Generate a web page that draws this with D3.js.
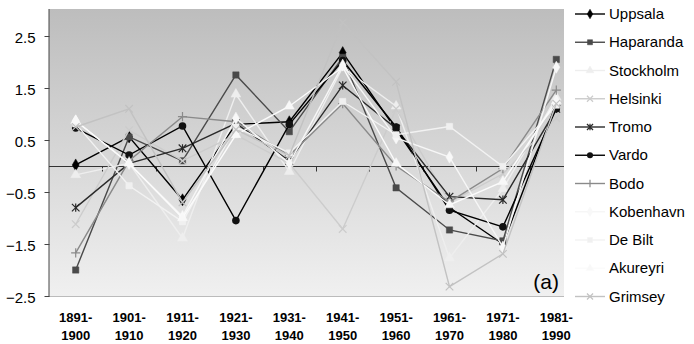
<!DOCTYPE html>
<html><head><meta charset="utf-8">
<script src="https://cdn.jsdelivr.net/npm/d3@7"></script>
<style>body{margin:0;background:#fff}svg{display:block;font-family:Arial,"Liberation Sans",sans-serif}</style>
</head><body><svg id="c" width="694" height="344"></svg>
<script>
const categories = ["1891-1900","1901-1910","1911-1920","1921-1930","1931-1940","1941-1950","1951-1960","1961-1970","1971-1980","1981-1990"];
const yTicks = [-2.5,-1.5,-0.5,0.5,1.5,2.5];
const uppsala   = [0.02, 0.56, -0.65, 0.80, 0.85, 2.18, 0.70, -0.80, -1.50, 1.20];
const haparanda = [-2.00, 0.56, 0.10, 1.75, 0.66, 2.09, -0.42, -1.23, -1.44, 2.05];
const stockholm = [-0.17, 0.05, -1.39, 1.38, -0.11, 1.90, 1.15, -1.77, -0.44, 1.32];
const helsinki  = [-1.12, 0.69, 0.10, 0.60, 0.05, -1.21, 1.10, -0.70, -0.15, 0.92];
const tromo     = [-0.80, 0.05, 0.34, 0.82, 0.10, 1.55, 0.72, -0.59, -0.65, 1.10];
const vardo     = [0.73, 0.21, 0.77, -1.05, 0.80, 2.03, 0.75, -0.85, -1.17, 1.10];
const bodo      = [-1.67, 0.10, 0.95, 0.85, 0.20, 1.20, 0.00, -0.69, -0.05, 1.46];
const kobenhavn = [0.87, 0.05, -0.97, 0.92, 0.05, 1.94, 0.54, 0.17, -1.56, 1.90];
const debilt    = [0.81, -0.38, -1.07, 0.75, 0.25, 1.24, 0.60, 0.76, -0.01, 1.17];
const akureyri  = [0.87, 0.05, -1.00, 0.60, 1.15, 1.90, 0.05, -0.75, -0.30, 1.25];
const grimsey   = [0.75, 1.10, -0.70, 0.70, 0.20, 2.76, 1.62, -2.32, -1.69, 1.20];

const series = [
  {name:"Uppsala",   values:uppsala,   color:"#000000", fill:"#000000", marker:"diamond"},
  {name:"Haparanda", values:haparanda, color:"#4a4a4a", fill:"#4a4a4a", marker:"square"},
  {name:"Stockholm", values:stockholm, color:"#eeeeee", fill:"#eeeeee", marker:"triangle"},
  {name:"Helsinki",  values:helsinki,  color:"#cccccc", fill:"#cccccc", marker:"x"},
  {name:"Tromo",     values:tromo,     color:"#2a2a2a", fill:"#2a2a2a", marker:"star"},
  {name:"Vardo",     values:vardo,     color:"#000000", fill:"#111111", marker:"circle"},
  {name:"Bodo",      values:bodo,      color:"#8a8a8a", fill:"#8a8a8a", marker:"plus"},
  {name:"Kobenhavn", values:kobenhavn, color:"#f6f6f6", fill:"#f8f8f8", marker:"diamond"},
  {name:"De Bilt",   values:debilt,    color:"#f2f2f2", fill:"#f0f0f0", marker:"square"},
  {name:"Akureyri",  values:akureyri,  color:"#fbfbfb", fill:"#f8f8f8", marker:"triangle"},
  {name:"Grimsey",   values:grimsey,   color:"#c2c2c2", fill:"#c2c2c2", marker:"x"}
];

const svg = d3.select("#c");
const L = 49, R = 583, T = 9, B = 296, visR = 564;
const x = d3.scaleBand().domain(categories).range([L, R]);
const y = d3.scaleLinear().domain([-2.5, 3]).range([B, B - 5.5*52]);

const defs = svg.append("defs");
const g = defs.append("linearGradient").attr("id","bg").attr("x1",0).attr("y1",0).attr("x2",0).attr("y2",1);
g.append("stop").attr("offset","0%").attr("stop-color","#bdbdbd");
g.append("stop").attr("offset","100%").attr("stop-color","#f0f0f0");
svg.append("rect").attr("x",L).attr("y",T).attr("width",R-L).attr("height",B-T).attr("fill","url(#bg)");
svg.append("line").attr("x1",L).attr("x2",visR).attr("y1",B+0.5).attr("y2",B+0.5).attr("stroke","#bbbbbb");

// y axis
const yAxis = d3.axisLeft(y).tickValues(yTicks).tickSize(5).tickFormat(d3.format(".1f"));
const ya = svg.append("g").attr("transform",`translate(${L+0.5},0)`).call(yAxis);
ya.select(".domain").attr("d",`M-0.5,${T}V${B+0.5}`).attr("stroke","#444");
ya.selectAll(".tick line").attr("stroke","#444");
ya.selectAll("text").attr("font-size",15).attr("fill","#000").attr("x",-14).attr("dy","0.4em").attr("font-family","Arial, Liberation Sans, sans-serif");

// zero axis line with ticks at category boundaries
const y0 = Math.round(y(0)) + 0.5;
svg.append("line").attr("x1",L).attr("x2",visR).attr("y1",y0).attr("y2",y0).attr("stroke","#333").attr("stroke-width",1);
categories.slice(1).forEach(c => {
  const xx = Math.round(x(c)) + 0.5;
  if (xx < visR) svg.append("line").attr("x1",xx).attr("x2",xx).attr("y1",y0).attr("y2",y0+5).attr("stroke","#333");
});

function drawMarker(sel, type, cx, cy, s, color, fill) {
  const k = s;
  if (type === "diamond") sel.append("path").attr("d",d3.symbol(d3.symbolDiamond, 42*k*k)()).attr("transform",`translate(${cx},${cy})`).attr("fill",fill).attr("stroke",color).attr("stroke-width",0.5);
  else if (type === "square") sel.append("path").attr("d",d3.symbol(d3.symbolSquare, 40*k*k)()).attr("transform",`translate(${cx},${cy})`).attr("fill",fill).attr("stroke",color).attr("stroke-width",0.5);
  else if (type === "triangle") sel.append("path").attr("d",d3.symbol(d3.symbolTriangle, 42*k*k)()).attr("transform",`translate(${cx},${cy})`).attr("fill",fill).attr("stroke",color).attr("stroke-width",0.5);
  else if (type === "circle") sel.append("circle").attr("cx",cx).attr("cy",cy).attr("r",3.8*k).attr("fill",fill);
  else {
    const r = 3.8*k;
    let d = "";
    if (type === "x" || type === "star") d += `M${cx-r},${cy-r}L${cx+r},${cy+r}M${cx-r},${cy+r}L${cx+r},${cy-r}`;
    if (type === "star") d += `M${cx},${cy-r*1.1}L${cx},${cy+r*1.1}`;
    if (type === "plus") d += `M${cx-r*1.2},${cy}L${cx+r*1.2},${cy}M${cx},${cy-r*1.2}L${cx},${cy+r*1.2}`;
    sel.append("path").attr("d",d).attr("stroke",fill).attr("stroke-width",1.2).attr("fill","none");
  }
}

const line = d3.line().x((d,i) => x(categories[i]) + x.bandwidth()/2).y(d => y(d));
const plot = svg.append("g");
series.forEach(s => {
  const sg = plot.append("g");
  sg.append("path").attr("d", line(s.values)).attr("fill","none").attr("stroke",s.color).attr("stroke-width",1.4);
  s.values.forEach((v,i) => drawMarker(sg, s.marker, x(categories[i]) + x.bandwidth()/2, y(v), 1, s.color, s.fill));
});

// "(a)" label
svg.append("text").attr("x",559).attr("y",289).attr("text-anchor","end").attr("font-size",21).attr("fill","#000").text("(a)");

// legend (covers right part of plot)
svg.append("rect").attr("x",visR).attr("y",0).attr("width",694-visR).attr("height",B+2).attr("fill","#fff");
const leg = svg.append("g");
series.forEach((s,i) => {
  const ly = 14 + i*28.25;
  leg.append("line").attr("x1",575).attr("x2",605).attr("y1",ly).attr("y2",ly).attr("stroke",s.color).attr("stroke-width",1.4);
  drawMarker(leg, s.marker, 590, ly, 0.8, s.color, s.fill);
  leg.append("text").attr("x",609).attr("y",ly+5).attr("font-size",15).attr("fill","#000").text(s.name);
});

// x labels
categories.forEach(c => {
  const parts = c.split("-");
  const cx = x(c)+x.bandwidth()/2;
  const t = svg.append("text").attr("text-anchor","middle")
    .attr("font-size",13).attr("font-weight","bold").attr("fill","#000");
  t.append("tspan").attr("x", cx).attr("y",322).text(parts[0]+"-");
  t.append("tspan").attr("x", cx).attr("y",340).text(parts[1]);
});
</script></body></html>
